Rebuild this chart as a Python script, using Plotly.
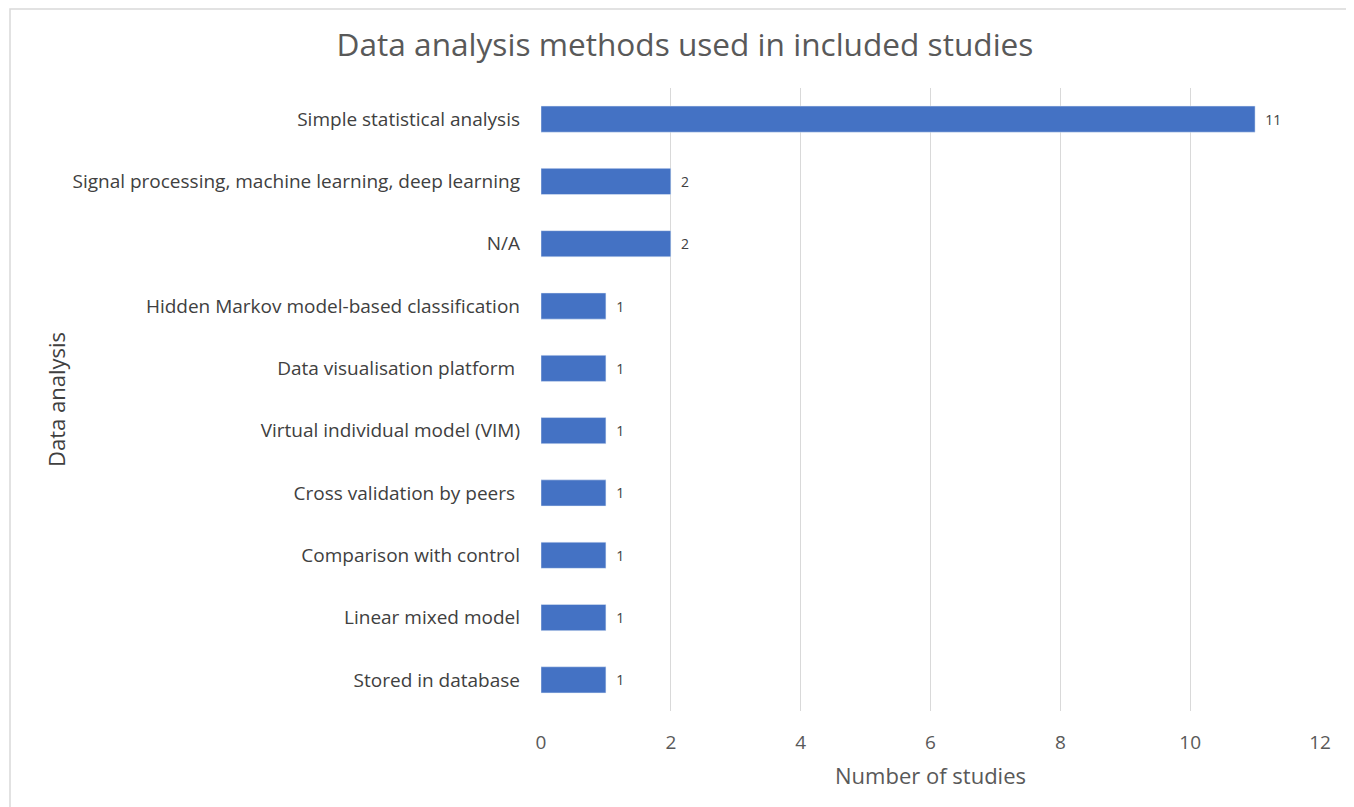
import plotly.graph_objects as go

categories = [
    "Simple statistical analysis",
    "Signal processing, machine learning, deep learning",
    "N/A",
    "Hidden Markov model-based classification",
    "Data visualisation platform ",
    "Virtual individual model (VIM)",
    "Cross validation by peers ",
    "Comparison with control",
    "Linear mixed model",
    "Stored in database",
]
values = [11, 2, 2, 1, 1, 1, 1, 1, 1, 1]
x_ticks = [0, 2, 4, 6, 8, 10, 12]

FONT = "Open Sans"

fig = go.Figure(go.Bar(
    y=categories,
    x=values,
    orientation="h",
    marker=dict(color="#4472C4"),
    width=0.42,
    texttemplate="  %{x}",
    textposition="outside",
    textfont=dict(family=FONT, size=14, color="#404040"),
    cliponaxis=False,
))

L, R, T, B = 533, 1312, 80, 703
W, H = 1354, 807
fig.update_layout(
    width=W, height=H,
    paper_bgcolor="white", plot_bgcolor="white",
    margin=dict(l=L, r=W - R, t=T, b=H - B),
    title=dict(text="Data analysis methods used in included studies",
               x=0.5, xanchor="center", y=1 - 37 / H, yanchor="middle",
               font=dict(family=FONT, size=31.6, color="#595959")),
    font=dict(family=FONT, color="#595959"),
    showlegend=False,
    xaxis=dict(range=[0, 12], tickvals=x_ticks, showgrid=True,
               gridcolor="#d9d9d9", gridwidth=1, zeroline=False,
               showline=False, ticks="", ticklabelstandoff=18,
               tickfont=dict(family=FONT, size=19, color="#595959"),
               title=dict(text="Number of studies", standoff=14,
                          font=dict(family=FONT, size=22, color="#595959"))),
    yaxis=dict(autorange="reversed", showgrid=False, zeroline=False,
               showline=False, ticks="", ticklabelstandoff=20,
               tickfont=dict(family=FONT, size=19, color="#404040"),
               title=dict(text="Data analysis", standoff=0,
                          font=dict(family=FONT, size=22, color="#404040"))),
    shapes=[dict(type="rect", xref="paper", yref="paper",
                 x0=(2 - L) / (R - L), x1=(1342 - L) / (R - L),
                 y0=-(H + 20 - B) / (B - T), y1=1 + (T - 1) / (B - T),
                 line=dict(color="#d9d9d9", width=1.5), layer="below")],
)

fig.write_html("out.html")
